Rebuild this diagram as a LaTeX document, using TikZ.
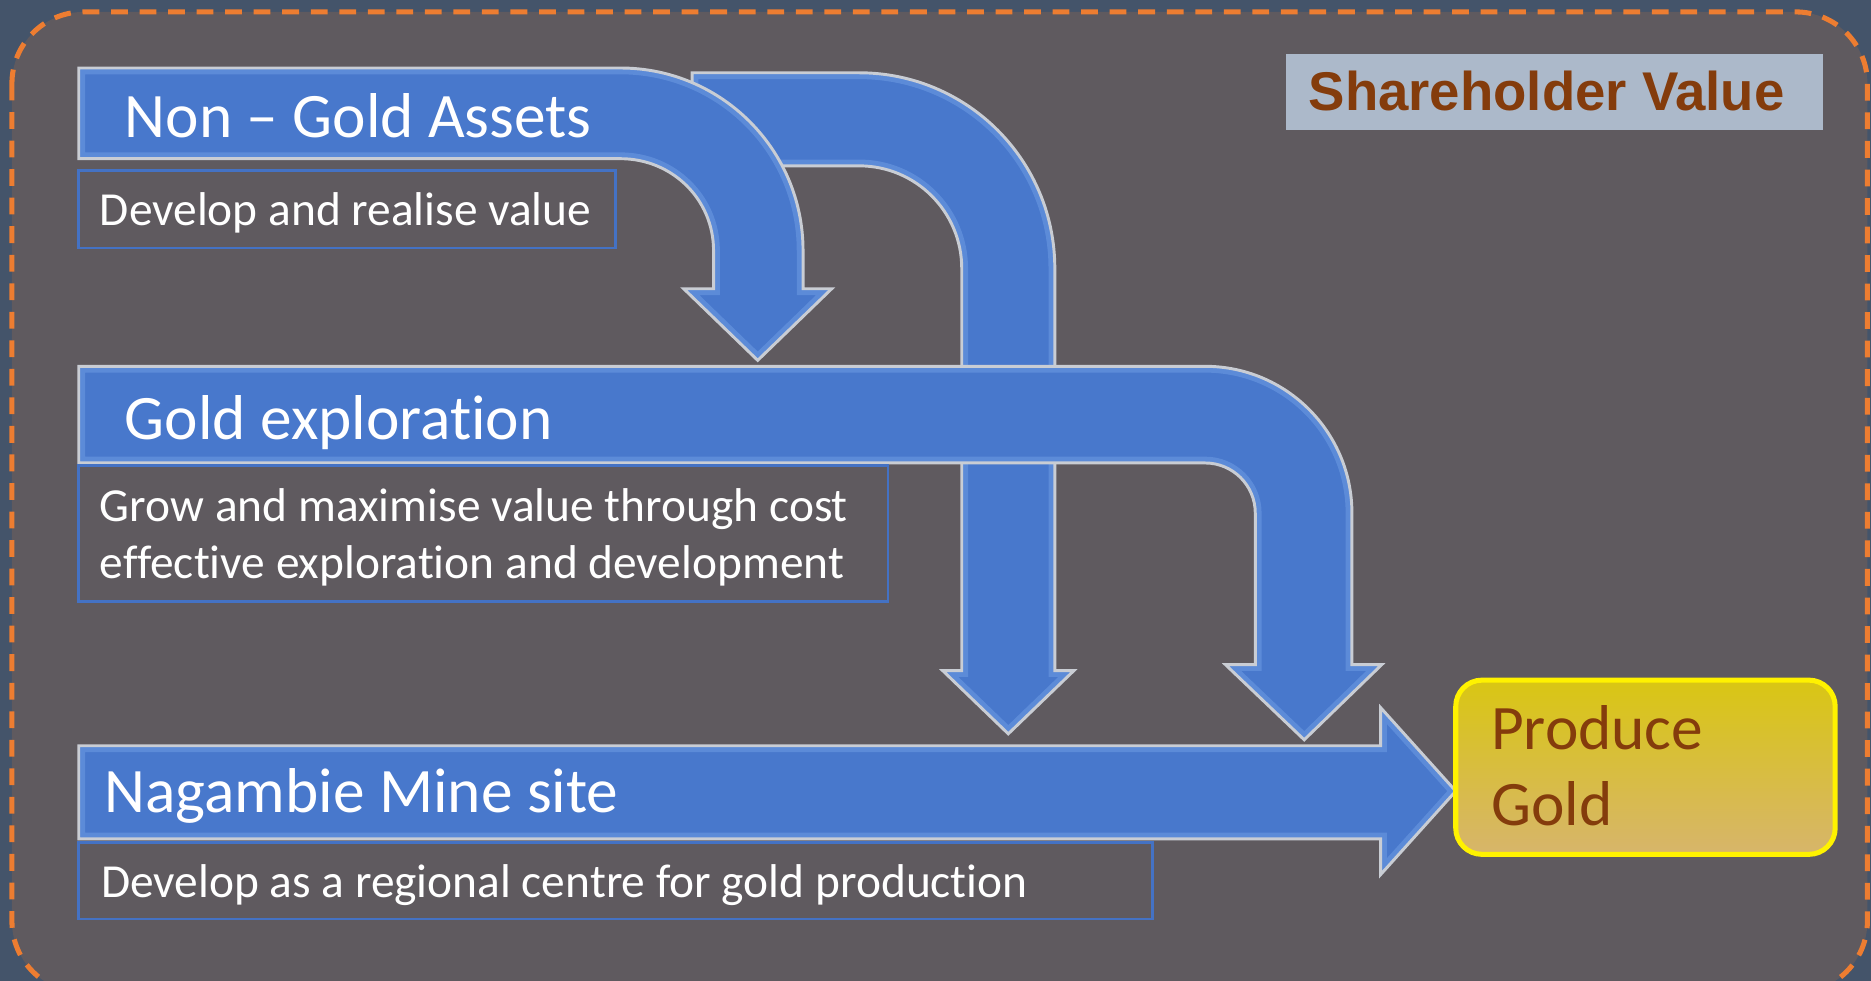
\documentclass[tikz,border=0pt]{standalone}
\usepackage{fontspec}
\setmainfont{Carlito}[Ligatures={NoCommon}]
\newfontfamily\arialfont{Liberation Sans}
\definecolor{bgout}{HTML}{44546A}
\definecolor{bgin}{HTML}{5F5A5F}
\definecolor{dashor}{HTML}{ED7D31}
\definecolor{arrblue}{HTML}{4878CC}
\definecolor{arrlight}{HTML}{8DB8F5}
\definecolor{arrdark}{HTML}{2F5597}
\definecolor{boxblue}{HTML}{4472C4}
\definecolor{brownt}{HTML}{843C0C}
\definecolor{shbox}{HTML}{ACB9CA}
\definecolor{goldtop}{HTML}{D9C613}
\definecolor{goldbot}{HTML}{D7B56B}
\definecolor{goldedge}{HTML}{FFF200}
\definecolor{bevel}{HTML}{C9CDD4}
\begin{document}
\begin{tikzpicture}[x=0.01cm,y=-0.01cm,
  blockarrow/.style={fill=arrblue},
  bevelglow/.style={draw=arrlight, line width=3pt, opacity=0.3},
  beveledge/.style={draw=bevel, line width=0.7pt, line join=miter},
  textbox/.style={draw=boxblue, line width=0.6pt},
  titletext/.style={anchor=base west, inner sep=0pt, text=white, font=\fontsize{15.1}{18}\selectfont},
  subtext/.style={anchor=base west, inner sep=0pt, text=white, align=left, font=\fontsize{11.3}{13.7}\selectfont},
  arrA/.style={insert path={(66,57) -- (520,57) .. controls (604.5,57) and (673,125.5) .. (673,210) -- (673,242) -- (697,242) -- (635,302) -- (573,242) -- (598,242) -- (598,210) .. controls (598,166.9) and (563.1,133) .. (520,133) -- (66,133) -- cycle}},
  arrB/.style={insert path={(580,61) -- (720,61) .. controls (810.6,61) and (884,134.4) .. (884,225) -- (884,562) -- (900,562) -- (845,615) -- (790,562) -- (806,562) -- (806,225) .. controls (806,177.5) and (767.5,139) .. (720,139) -- (580,139) -- cycle}},
  arrC/.style={insert path={(66,307) -- (1010,307) .. controls (1077.9,307) and (1133,362.1) .. (1133,430) -- (1133,557) -- (1158,557) -- (1093,620) -- (1027,557) -- (1052,557) -- (1052,430) .. controls (1052,406.8) and (1033.2,388) .. (1010,388) -- (66,388) -- cycle}},
  arrD/.style={insert path={(66,625) -- (1157,625) -- (1157,593) -- (1220,663) -- (1157,733) -- (1157,703) -- (66,703) -- cycle}},
]
\fill[bgout] (0,0) rectangle (1568,822);
\useasboundingbox (0,0) rectangle (1568,822);
\filldraw[fill=bgin, draw=dashor, line width=1.2pt, dash pattern=on 4pt off 2.8pt, rounded corners=0.6cm] (10,10) rectangle (1565,832);

% Shareholder value
\fill[shbox] (1078,45) rectangle (1528,109);
\node[anchor=base west, inner sep=0pt, text=brownt, font=\arialfont\bfseries\fontsize{13}{15}\selectfont] (sv) at (1096,93) {Shareholder Value};

% block arrows, back to front
\foreach \a in {arrB,arrA,arrC,arrD}{
  \path[blockarrow, \a];
  \begin{scope}
    \path[clip, \a];
    \path[bevelglow, \a];
  \end{scope}
  \path[beveledge, \a];
}

% titles
\node[titletext] (t1) at (104,115) {Non – Gold Assets};
\node[titletext] (t2) at (104,368) {Gold exploration};
\node[titletext] (t3) at (87,681) {Nagambie Mine site};

% sub boxes
\draw[textbox] (66,143) rectangle (516,208);
\node[subtext] (s1) at (83,189) {Develop and realise value};
\draw[textbox] (66,390) rectangle (744,504);
\node[subtext] (s2) at (83,485) {Grow and maximise value through cost\\effective exploration and development};
\draw[textbox] (66,706) rectangle (966,770);
\node[subtext] (s3) at (84,752) {Develop as a regional centre for gold production};

% produce gold
\shade[top color=goldtop, bottom color=goldbot, rounded corners=0.22cm] (1220,570) rectangle (1538,716);
\draw[goldedge, line width=1.2pt, rounded corners=0.22cm] (1220,570) rectangle (1538,716);
\node[anchor=base west, inner sep=0pt, text=brownt, align=left, font=\fontsize{15.1}{18.2}\selectfont] (pg) at (1249,692) {Produce\\Gold};
\end{tikzpicture}
\end{document}
